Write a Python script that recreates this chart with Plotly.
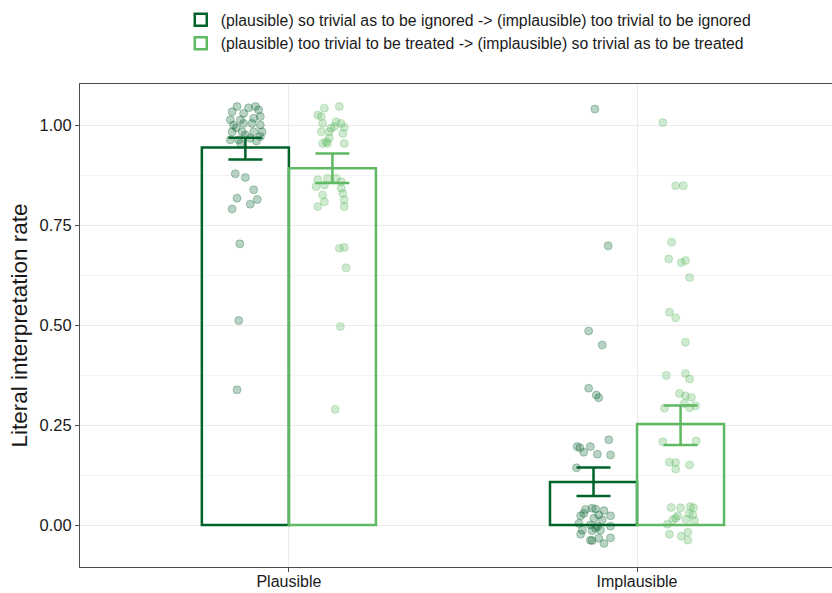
import plotly.graph_objects as go

# ---------------- data ----------------
categories = ["Plausible", "Implausible"]
series_names = [
    "(plausible) so trivial as to be ignored -> (implausible) too trivial to be ignored",
    "(plausible) too trivial to be treated -> (implausible) so trivial as to be treated",
]

ignored_mean = [0.944, 0.1075]
ignored_lo = [0.914, 0.0725]
ignored_hi = [0.968, 0.144]

treated_mean = [0.892, 0.2525]
treated_lo = [0.855, 0.200]
treated_hi = [0.929, 0.299]

# individual participant rates (y) with horizontal jitter (in category units)
ign_plaus_y = [1.046, 1.046, 1.033, 1.029, 1.038, 1.013, 1.013, 1.017, 1.021, 1.004,
               1.000, 1.004, 1.000, 0.983, 0.983, 0.983, 0.983, 0.963, 0.963, 0.967,
               0.971, 0.954, 0.975, 0.878, 0.869, 0.838, 0.817, 0.814, 0.802, 0.790,
               0.703, 0.511, 0.338, 1.043, 0.993, 0.960]
ign_plaus_j = [-0.024, 0.029, -0.038, -0.005, 0.038, -0.043, -0.014, 0.024, 0.043, 0.019,
               -0.034, -0.005, 0.043, -0.038, -0.009, 0.024, 0.048, -0.043, -0.019, 0.014,
               0.043, -0.014, 0.000, -0.029, 0.000, 0.024, -0.024, 0.034, 0.014, -0.038,
               -0.016, -0.019, -0.024, 0.009, -0.026, 0.032]

trt_plaus_y = [1.042, 1.046, 1.025, 1.021, 1.008, 1.004, 1.004, 0.994, 0.992, 0.996,
               0.983, 0.983, 0.979, 0.967, 0.958, 0.954, 0.954, 0.954, 0.867, 0.867,
               0.863, 0.858, 0.850, 0.842, 0.846, 0.829, 0.825, 0.808, 0.813, 0.796,
               0.796, 0.692, 0.694, 0.643, 0.496, 0.289]
trt_plaus_j = [-0.023, 0.020, -0.042, -0.032, 0.011, 0.025, -0.028, 0.034, -0.004, 0.006,
               -0.032, -0.009, 0.030, -0.009, -0.018, -0.014, 0.034, -0.028, -0.014, 0.011,
               -0.042, 0.025, -0.023, 0.025, -0.047, 0.030, -0.028, -0.023, 0.034, -0.042,
               0.034, 0.020, 0.034, 0.039, 0.023, 0.008]

ign_impl_y = [1.040, 0.698, 0.485, 0.450, 0.342, 0.325, 0.318, 0.213, 0.196, 0.193,
              0.196, 0.182, 0.177, 0.175, 0.143, 0.039, 0.042, 0.040, 0.036, 0.029,
              0.025, 0.023, 0.023, 0.017, 0.013, 0.004, 0.000, -0.003, -0.003, -0.013,
              -0.014, -0.008, -0.013, -0.023, -0.033, -0.032, -0.038, -0.046, -0.039]
ign_impl_j = [0.004, 0.042, -0.014, 0.025, -0.014, 0.008, 0.015, 0.044, -0.047, -0.039,
              -0.009, -0.028, 0.011, 0.049, -0.049, -0.023, -0.004, 0.006, 0.030, -0.028,
              0.015, 0.049, -0.037, 0.001, 0.025, -0.042, -0.009, 0.011, 0.049, -0.032,
              -0.004, 0.006, 0.020, -0.037, 0.015, 0.049, -0.009, 0.030, -0.004]

trt_impl_y = [1.006, 0.848, 0.848, 0.707, 0.665, 0.656, 0.661, 0.619, 0.532, 0.518,
              0.457, 0.374, 0.379, 0.365, 0.329, 0.323, 0.319, 0.304, 0.298, 0.292,
              0.293, 0.208, 0.210, 0.157, 0.156, 0.140, 0.150, 0.044, 0.043, 0.046,
              0.043, 0.023, 0.017, 0.029, 0.025, 0.014, 0.011, 0.002, -0.023, -0.028,
              -0.018, -0.038, 0.013]
trt_impl_j = [-0.051, -0.014, 0.008, -0.026, -0.034, 0.002, 0.014, 0.026, -0.032, -0.014,
              0.014, -0.041, 0.014, 0.026, -0.003, 0.014, 0.031, 0.011, 0.043, -0.046,
              0.026, -0.051, 0.045, -0.032, -0.014, -0.014, 0.026, -0.027, 0.000, 0.028,
              0.037, -0.008, -0.014, 0.024, 0.035, 0.016, 0.040, -0.038, -0.032, 0.002,
              0.021, 0.021, -0.022]

y_ticks = [0.0, 0.25, 0.5, 0.75, 1.0]
y_tick_text = ["0.00", "0.25", "0.50", "0.75", "1.00"]

# ---------------- styling ----------------
DARK = "#00632a"
LIGHT = "#5fb962"
DARK_PT = "rgba(0,92,40,0.28)"
LIGHT_PT = "rgba(95,185,98,0.30)"
FONT = "Liberation Sans, Arial, sans-serif"
TXT = "#1a1a1a"

cat_idx = [1, 2]
dodge = [-0.125, 0.125]
bar_w = 0.25

fig = go.Figure()

groups = [
    (series_names[0], ignored_mean, ignored_lo, ignored_hi, DARK, DARK_PT,
     [(ign_plaus_y, ign_plaus_j), (ign_impl_y, ign_impl_j)], dodge[0]),
    (series_names[1], treated_mean, treated_lo, treated_hi, LIGHT, LIGHT_PT,
     [(trt_plaus_y, trt_plaus_j), (trt_impl_y, trt_impl_j)], dodge[1]),
]

for name, mean, lo, hi, col, ptcol, pts, off in groups:
    xs = [c + off for c in cat_idx]
    fig.add_trace(go.Bar(
        x=xs, y=mean, width=bar_w, name=name,
        marker=dict(color="rgba(255,255,255,0)", line=dict(color=col, width=2.5)),
        showlegend=True, legendgroup=name,
    ))

for name, mean, lo, hi, col, ptcol, pts, off in groups:
    for ci, (ys, js) in zip(cat_idx, pts):
        fig.add_trace(go.Scatter(
            x=[ci + off + j for j in js], y=ys, mode="markers",
            marker=dict(size=8, color=ptcol, line=dict(color=ptcol, width=1)),
            showlegend=False, legendgroup=name, hoverinfo="skip",
        ))

for name, mean, lo, hi, col, ptcol, pts, off in groups:
    xs = [c + off for c in cat_idx]
    fig.add_trace(go.Scatter(
        x=xs, y=mean, mode="markers",
        marker=dict(size=1, color="rgba(0,0,0,0)"),
        error_y=dict(type="data", symmetric=False,
                     array=[h - m for h, m in zip(hi, mean)],
                     arrayminus=[m - l for m, l in zip(mean, lo)],
                     color=col, thickness=2.5, width=17),
        showlegend=False, legendgroup=name, hoverinfo="skip",
    ))

fig.update_layout(
    width=832, height=593,
    margin=dict(l=80, r=0, t=84, b=26),
    paper_bgcolor="white", plot_bgcolor="white",
    font=dict(family=FONT, size=15, color=TXT),
    barmode="overlay",
    legend=dict(
        orientation="v", x=0.134, xanchor="left", y=1.168, yanchor="top",
        font=dict(family=FONT, size=15.8, color=TXT),
        bgcolor="rgba(0,0,0,0)", traceorder="normal",
    ),
    showlegend=True,
)

fig.update_xaxes(
    range=[0.4, 2.56], tickmode="array", tickvals=cat_idx, ticktext=categories,
    showgrid=True, gridcolor="#ebebeb", gridwidth=1.2,
    zeroline=False, showline=True, mirror=True, linecolor="#4d4d4d", linewidth=1,
    ticks="outside", ticklen=4, tickcolor="#4d4d4d",
    tickfont=dict(family=FONT, size=16, color=TXT),
    ticklabelstandoff=-4,
    automargin=False,
)
fig.update_yaxes(
    range=[-0.105, 1.1025], tickmode="array", tickvals=y_ticks, ticktext=y_tick_text,
    showgrid=True, gridcolor="#ebebeb", gridwidth=1.2,
    minor=dict(tickmode="array", tickvals=[-0.125, 0.125, 0.375, 0.625, 0.875, 1.125],
               showgrid=True, gridcolor="#f3f3f3", gridwidth=0.6, ticks=""),
    zeroline=False, showline=True, mirror=True, linecolor="#4d4d4d", linewidth=1,
    ticks="outside", ticklen=4, tickcolor="#4d4d4d",
    tickfont=dict(family=FONT, size=16.5, color=TXT),
    title=dict(text="Literal interpretation rate", standoff=5,
               font=dict(family=FONT, size=22.5, color=TXT)),
    automargin=False,
)

fig.write_html("out.html", config={"displayModeBar": False},
               post_script="document.body.style.margin='0';")
